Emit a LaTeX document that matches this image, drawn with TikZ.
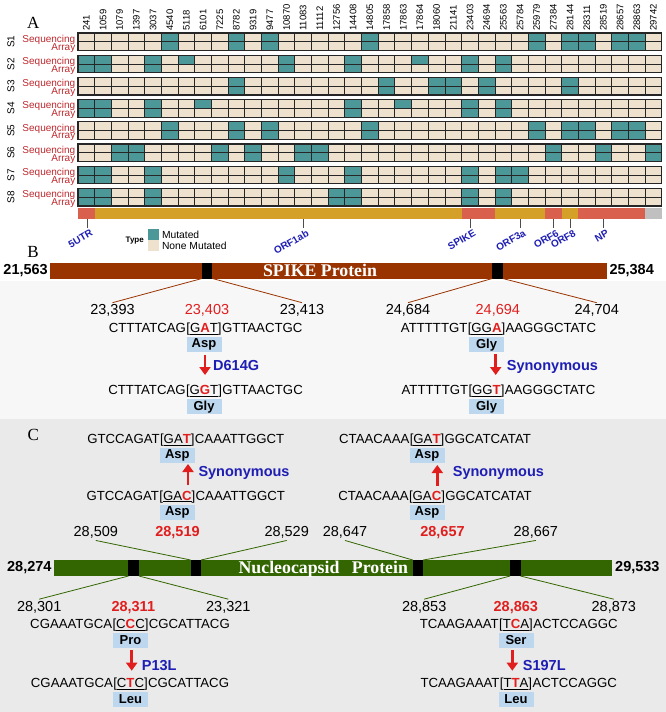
\documentclass[tikz,border=0pt]{standalone}
\usepackage{fontspec}
\setmainfont{Liberation Sans}
\newfontfamily\timesfont{Liberation Serif}
\usetikzlibrary{arrows.meta,positioning}

\definecolor{mutcol}{RGB}{76,152,153}
\definecolor{nonmutcol}{RGB}{238,226,207}
\definecolor{utrcol}{RGB}{217,96,76}
\definecolor{orfcol}{RGB}{212,160,40}
\definecolor{endcol}{RGB}{192,192,192}
\definecolor{rowred}{RGB}{190,40,45}
\definecolor{hired}{RGB}{225,30,30}
\definecolor{genblue}{RGB}{30,30,180}
\definecolor{aabox}{RGB}{189,215,238}
\definecolor{spikecol}{RGB}{153,51,0}
\definecolor{ncapcol}{RGB}{51,102,0}
\definecolor{panelB}{RGB}{247,247,247}
\definecolor{panelC}{RGB}{234,234,234}

\newcommand{\fsz}[1]{\fontsize{#1}{#1}\selectfont}
\newcommand{\codon}[3]{[\underline{#1\textcolor{hired}{\textbf{#2}}#3}]}

\begin{document}
\begin{tikzpicture}[x=1pt,y=-1pt,
  cellline/.style={draw=black!85,line width=0.9pt},
  collabel/.style={rotate=90,anchor=west,inner sep=0pt,font=\fsz{9.5}},
  rowlabel/.style={rotate=90,inner sep=0pt,font=\fsz{10}},
  kindlabel/.style={anchor=base east,inner sep=0pt,text=rowred,font=\fsz{10}},
  genelabel/.style={rotate=30,anchor=north east,inner sep=0pt,text=genblue,font=\fsz{10}\bfseries},
  legsq/.style={minimum width=11.6pt,minimum height=10.7pt,inner sep=0pt,outer sep=0pt},
  panellabel/.style={font=\timesfont\fsz{17},inner sep=0pt},
  protbar/.style={minimum height=16pt,inner sep=0pt,outer sep=0pt},
  prottxt/.style={anchor=base,inner sep=0pt,text=white,font=\timesfont\fsz{17.8}\bfseries},
  sitebox/.style={fill=black,minimum width=10.5pt,minimum height=16pt,inner sep=0pt,outer sep=0pt},
  endlabel/.style={font=\fsz{14.5}\bfseries,inner sep=0pt},
  poslabel/.style={font=\fsz{14.5},inner sep=1.5pt,anchor=base},
  hipos/.style={poslabel,text=hired},
  seqtxt/.style={font=\fsz{13.2},inner sep=0pt},
  aminobox/.style={fill=aabox,minimum width=35pt,minimum height=15pt,inner sep=0pt,font=\fsz{13}\bfseries},
  mutarrow/.style={draw=hired,line width=2.6pt,-{Triangle[length=8pt,width=11pt]}},
  mutlabel/.style={anchor=base west,inner sep=0pt,text=genblue,font=\fsz{14.5}\bfseries},
  zoomline/.style={line width=0.8pt}]
\useasboundingbox (0,0) rectangle (666,712);

% Panel backgrounds
\fill[panelB] (0,281) rectangle (666,419.3);
\fill[panelC] (0,419.3) rectangle (666,712);

% ---------------- A ----------------
\node[panellabel] (lblA) at (33.3,23) {A};

% Column positions
\foreach \pos [count=\ci from 0] in {241,1059,1079,1397,3037,4540,5118,6101,7225,8782,9319,9477,10870,11083,11112,12756,14408,14805,17858,17863,17864,18060,21141,23403,24694,25563,25784,25979,27384,28144,28311,28519,28657,28863,29742}
  \node[collabel] (col\pos) at (86.34+16.68*\ci,31) {\pos};

% Samples: sequencing cells / array cells
\foreach \rw/\seqm/\arrm in {
  1/{5,9,11,17,27,29,30,32,33}/{5,9,11,17,27,29,30,32,33},
  2/{0,1,4,6,12,16,20,23,25}/{0,1,4,12,16,23,25},
  3/{9,18,21,22,24,29}/{9,18,21,22,24,29},
  4/{0,1,4,7,16,19,23,25}/{0,1,4,16,23,25},
  5/{5,9,11,17,27,29,30,32,33}/{5,9,11,17,27,29,30,32,33},
  6/{2,3,8,10,13,14,28,31,34}/{2,3,8,10,13,14,28,31,34},
  7/{0,1,4,12,16,23,25,26}/{0,1,4,12,16,23,25,26},
  8/{0,1,4,15,16,23,25}/{0,1,4,15,16,23,25}}{
  \pgfmathsetmacro{\yt}{33+22.2*(\rw-1)}
  \fill[nonmutcol] (78,\yt) rectangle (661.8,\yt+17.6);
  \foreach \cl in \seqm {\fill[mutcol] (78+16.68*\cl,\yt) rectangle ++(16.68,8.8);}
  \foreach \cl in \arrm {\fill[mutcol] (78+16.68*\cl,\yt+8.8) rectangle ++(16.68,8.8);}
  \foreach \cl in {1,...,34} {\draw[cellline] (78+16.68*\cl,\yt) -- ++(0,17.6);}
  \draw[cellline] (78,\yt+8.8) -- (661.8,\yt+8.8);
  \draw[cellline,line width=1.2pt] (78,\yt) rectangle (661.8,\yt+17.6);
  \node[rowlabel] (row\rw) at (11,\yt+8.8) {S\rw};
  \node[kindlabel] (seq\rw) at (75.5,\yt+9.2) {Sequencing};
  \node[kindlabel] (arr\rw) at (75.5,\yt+17) {Array};
}

% Genome annotation
\foreach \ca/\cb/\gc in {0/1/utrcol,1/23/orfcol,23/25/utrcol,25/28/orfcol,28/29/utrcol,29/30/orfcol,30/34/utrcol,34/35/endcol}
  \fill[\gc] (78+16.68*\ca,208) rectangle (78+16.68*\cb,219);
\foreach \tx/\gname in {87/5UTR,303/ORF1ab,470/SPIKE,520/ORF3a,553/ORF6,570/ORF8,603/NP}{
  \coordinate (tk\gname) at (\tx,219);
  \coordinate (tkb\gname) at (\tx,227.5);
  \draw[black!70,line width=0.8pt] (tk\gname) -- (tkb\gname);
  \node[genelabel] (gene\gname) at ([xshift=3pt,yshift=-1.5pt]tkb\gname) {\gname};
}

% Legend
\node[legsq,fill=mutcol] (legmut) at (153.5,234.7) {};
\node[legsq,fill=nonmutcol,below=0pt of legmut] (legnon) {};
\node[font=\fsz{8}\bfseries,inner sep=0pt,anchor=east] (legtype) at (144,241) {Type};
\node[font=\fsz{10.3},inner sep=0pt,right=2.5pt of legmut] (legmuttxt) {Mutated};
\node[font=\fsz{10.3},inner sep=0pt,right=2.5pt of legnon] (legnontxt) {None Mutated};

% ---------------- B ----------------
\node[panellabel] (lblB) at (33,251.5) {B};
\node[protbar,fill=spikecol,minimum width=557pt] (spike) at (328.5,270.5) {};
\node[sitebox] (sB1) at (207.2,270.5) {};
\node[sitebox] (sB2) at (497.5,270.5) {};
\node[prottxt] (spiketxt) at (320,276.4) {SPIKE Protein};
\node[endlabel,left=2pt of spike] (spikestart) {21,563};
\node[endlabel,right=2.3pt of spike] (spikeend) {25,384};

\node[poslabel] (pB1a) at (112.5,314.5) {23,393};
\node[hipos] (pB1b) at (207,314.5) {23,403};
\node[poslabel] (pB1c) at (302,314.5) {23,413};
\node[poslabel] (pB2a) at (408,314.5) {24,684};
\node[hipos] (pB2b) at (497.8,314.5) {24,694};
\node[poslabel] (pB2c) at (596.7,314.5) {24,704};

\draw[zoomline,draw=spikecol] (sB1.south west) -- (pB1a.north);
\draw[zoomline,draw=spikecol] (sB1.south east) -- (pB1c.north);
\draw[zoomline,draw=spikecol] (sB2.south west) -- (pB2a.north);
\draw[zoomline,draw=spikecol] (sB2.south east) -- (pB2c.north);

% ---------------- C ----------------
\node[panellabel] (lblC) at (33.3,435) {C};
\node[protbar,fill=ncapcol,minimum width=557.4pt] (ncap) at (333,568) {};
\node[sitebox] (sN1) at (133.7,568) {};
\node[sitebox] (sN2) at (195.9,568) {};
\node[sitebox] (sN3) at (418,568) {};
\node[sitebox] (sN4) at (515.3,568) {};
\node[prottxt] (ncaptxt) at (323.3,573.9) {Nucleocapsid\hspace{0.45em} Protein};
\node[endlabel,left=2.6pt of ncap] (ncapstart) {28,274};
\node[endlabel,right=3.3pt of ncap] (ncapend) {29,533};

\node[poslabel] (pN2a) at (95.8,536.9) {28,509};
\node[hipos,font=\fsz{14.5}\bfseries] (pN2b) at (177.5,536.9) {28,519};
\node[poslabel] (pN2c) at (286.7,536.9) {28,529};
\node[poslabel] (pN3a) at (345,536.9) {28,647};
\node[hipos,font=\fsz{14.5}\bfseries] (pN3b) at (442.5,536.9) {28,657};
\node[poslabel] (pN3c) at (535.8,536.9) {28,667};
\node[poslabel] (pN1a) at (39.2,611) {28,301};
\node[hipos,font=\fsz{14.5}\bfseries] (pN1b) at (133.3,611) {28,311};
\node[poslabel] (pN1c) at (228.3,611) {23,321};
\node[poslabel] (pN4a) at (424.2,611) {28,853};
\node[hipos,font=\fsz{14.5}\bfseries] (pN4b) at (515.8,611) {28,863};
\node[poslabel] (pN4c) at (613.8,611) {28,873};

\draw[zoomline,draw=ncapcol] (pN2a.south) -- (sN2.north west);
\draw[zoomline,draw=ncapcol] (pN2c.south) -- (sN2.north east);
\draw[zoomline,draw=ncapcol] (pN3a.south) -- (sN3.north west);
\draw[zoomline,draw=ncapcol] (pN3c.south) -- (sN3.north east);
\draw[zoomline,draw=ncapcol] (sN1.south west) -- (pN1a.north);
\draw[zoomline,draw=ncapcol] (sN1.south east) -- (pN1c.north);
\draw[zoomline,draw=ncapcol] (sN4.south west) -- (pN4a.north);
\draw[zoomline,draw=ncapcol] (sN4.south east) -- (pN4c.north);

% Sequences with codon and amino acid
\foreach \nm/\px/\py/\lft/\cdn/\rgt/\amino in {
  B1/204/332.5/CTTTATCAG/\codon{G}{A}{T}/GTTAACTGC/Asp,
  B2/204/394.5/CTTTATCAG/\codon{G}{G}{T}/GTTAACTGC/Gly,
  B3/486.5/332.5/ATTTTTGT/\codon{GG}{A}{}/AAGGGCTATC/Gly,
  B4/486.5/394.5/ATTTTTGT/\codon{GG}{T}{}/AAGGGCTATC/Gly,
  N1/177.3/443.3/GTCCAGAT/\codon{GA}{T}{}/CAAATTGGCT/Asp,
  N2/177.3/500/GTCCAGAT/\codon{GA}{C}{}/CAAATTGGCT/Asp,
  N3/427/443.3/CTAACAAA/\codon{GA}{T}{}/GGCATCATAT/Asp,
  N4/427/500.3/CTAACAAA/\codon{GA}{C}{}/GGCATCATAT/Asp,
  N5/130.5/628.3/CGAAATGCA/\codon{C}{C}{C}/CGCATTACG/Pro,
  N6/130.5/687.3/CGAAATGCA/\codon{C}{T}{C}/CGCATTACG/Leu,
  N7/516/628.3/TCAAGAAAT/\codon{T}{C}{A}/ACTCCAGGC/Ser,
  N8/516/687.3/TCAAGAAAT/\codon{T}{T}{A}/ACTCCAGGC/Leu}{
  \node[seqtxt,anchor=base] (cdn\nm) at (\px,\py) {\cdn};
  \node[seqtxt,anchor=base east] (lft\nm) at (cdn\nm.base west) {\lft};
  \node[seqtxt,anchor=base west] (rgt\nm) at (cdn\nm.base east) {\rgt};
  \node[aminobox,below=1.5pt of cdn\nm] (aa\nm) {\amino};
}

% Mutation arrows
\foreach \nm/\px/\ya/\yb in {B1/205/355/375,B3/495.7/354/375,N2/188/485/464,N4/437.3/486/465,N5/131.7/650/670.7,N7/512.3/650/670.7}{
  \coordinate (ms\nm) at (\px,\ya);
  \coordinate (me\nm) at (\px,\yb);
  \draw[mutarrow] (ms\nm) -- (me\nm);
}
\node[mutlabel] (mutB1) at (213,370.5) {D614G};
\node[mutlabel] (mutB3) at (506.7,370.5) {Synonymous};
\node[mutlabel] (mutN2) at (198.3,476) {Synonymous};
\node[mutlabel] (mutN4) at (452.7,476) {Synonymous};
\node[mutlabel] (mutN5) at (141.7,670) {P13L};
\node[mutlabel] (mutN7) at (522.7,670) {S197L};

\end{tikzpicture}
\end{document}
